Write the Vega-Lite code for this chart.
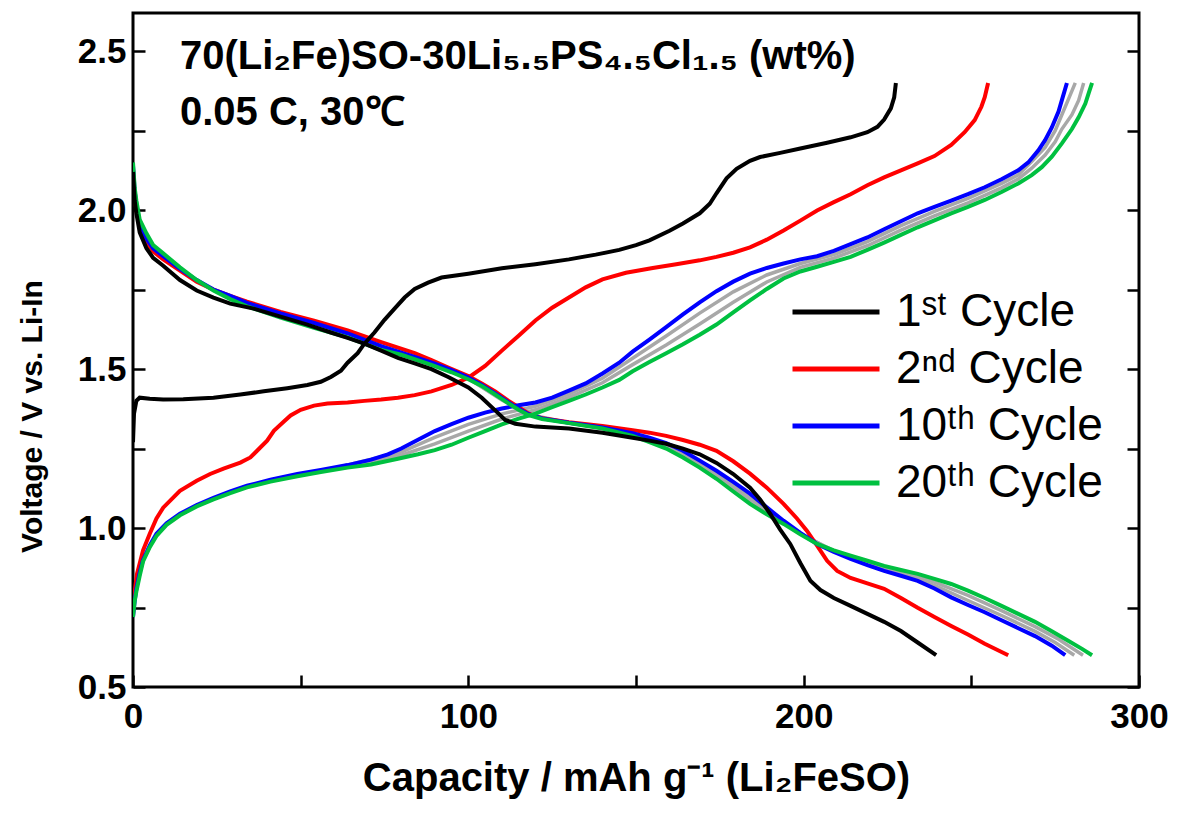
{
  "$schema": "https://vega.github.io/schema/vega-lite/v6.json",
  "width": 1006,
  "height": 674,
  "autosize": "none",
  "padding": {"left": 133, "top": 13, "right": 41, "bottom": 126},
  "background": "white",
  "config": {
    "view": {"stroke": "black", "strokeWidth": 3},
    "font": "Liberation Sans"
  },
  "datasets": {
    "main": [
      {"c":"2","s":"c","x":0,"y":0.76},{"c":"2","s":"c","x":0.5,"y":0.8},{"c":"2","s":"c","x":1.2,"y":0.856},{"c":"2","s":"c","x":3,"y":0.93},{"c":"2","s":"c","x":5,"y":0.982},{"c":"2","s":"c","x":7,"y":1.03},{"c":"2","s":"c","x":9,"y":1.064},{"c":"2","s":"c","x":14,"y":1.117},{"c":"2","s":"c","x":19,"y":1.149},{"c":"2","s":"c","x":23,"y":1.17},{"c":"2","s":"c","x":27,"y":1.187},{"c":"2","s":"c","x":32,"y":1.206},{"c":"2","s":"c","x":35,"y":1.222},{"c":"2","s":"c","x":37,"y":1.243},{"c":"2","s":"c","x":40,"y":1.275},{"c":"2","s":"c","x":42,"y":1.306},{"c":"2","s":"c","x":45,"y":1.335},{"c":"2","s":"c","x":47,"y":1.354},{"c":"2","s":"c","x":50,"y":1.372},{"c":"2","s":"c","x":54,"y":1.385},{"c":"2","s":"c","x":58,"y":1.392},{"c":"2","s":"c","x":64,"y":1.395},{"c":"2","s":"c","x":69,"y":1.4},{"c":"2","s":"c","x":74,"y":1.404},{"c":"2","s":"c","x":79,"y":1.41},{"c":"2","s":"c","x":84,"y":1.418},{"c":"2","s":"c","x":89,"y":1.43},{"c":"2","s":"c","x":95,"y":1.45},{"c":"2","s":"c","x":100,"y":1.473},{"c":"2","s":"c","x":105,"y":1.51},{"c":"2","s":"c","x":110,"y":1.558},{"c":"2","s":"c","x":115,"y":1.605},{"c":"2","s":"c","x":120,"y":1.653},{"c":"2","s":"c","x":125,"y":1.693},{"c":"2","s":"c","x":130,"y":1.725},{"c":"2","s":"c","x":135,"y":1.757},{"c":"2","s":"c","x":140,"y":1.782},{"c":"2","s":"c","x":147,"y":1.803},{"c":"2","s":"c","x":155,"y":1.818},{"c":"2","s":"c","x":162,"y":1.83},{"c":"2","s":"c","x":169,"y":1.842},{"c":"2","s":"c","x":174,"y":1.853},{"c":"2","s":"c","x":179,"y":1.866},{"c":"2","s":"c","x":184,"y":1.883},{"c":"2","s":"c","x":189,"y":1.907},{"c":"2","s":"c","x":194,"y":1.936},{"c":"2","s":"c","x":199,"y":1.967},{"c":"2","s":"c","x":204,"y":1.999},{"c":"2","s":"c","x":209,"y":2.025},{"c":"2","s":"c","x":214,"y":2.05},{"c":"2","s":"c","x":219,"y":2.078},{"c":"2","s":"c","x":224,"y":2.103},{"c":"2","s":"c","x":229,"y":2.125},{"c":"2","s":"c","x":234,"y":2.147},{"c":"2","s":"c","x":239,"y":2.17},{"c":"2","s":"c","x":244,"y":2.205},{"c":"2","s":"c","x":248,"y":2.245},{"c":"2","s":"c","x":251,"y":2.283},{"c":"2","s":"c","x":253,"y":2.325},{"c":"2","s":"c","x":254,"y":2.355},{"c":"2","s":"c","x":255,"y":2.4},
      {"c":"2","s":"d","x":0,"y":2.13},{"c":"2","s":"d","x":0.5,"y":2.04},{"c":"2","s":"d","x":1,"y":2.0},{"c":"2","s":"d","x":2,"y":1.95},{"c":"2","s":"d","x":4,"y":1.9},{"c":"2","s":"d","x":6,"y":1.87},{"c":"2","s":"d","x":9,"y":1.845},{"c":"2","s":"d","x":14,"y":1.81},{"c":"2","s":"d","x":19,"y":1.775},{"c":"2","s":"d","x":24,"y":1.75},{"c":"2","s":"d","x":29,"y":1.73},{"c":"2","s":"d","x":34,"y":1.712},{"c":"2","s":"d","x":44,"y":1.68},{"c":"2","s":"d","x":54,"y":1.652},{"c":"2","s":"d","x":64,"y":1.622},{"c":"2","s":"d","x":74,"y":1.585},{"c":"2","s":"d","x":84,"y":1.55},{"c":"2","s":"d","x":89,"y":1.528},{"c":"2","s":"d","x":94,"y":1.505},{"c":"2","s":"d","x":100,"y":1.478},{"c":"2","s":"d","x":104,"y":1.455},{"c":"2","s":"d","x":108,"y":1.43},{"c":"2","s":"d","x":112,"y":1.4},{"c":"2","s":"d","x":115,"y":1.38},{"c":"2","s":"d","x":118,"y":1.36},{"c":"2","s":"d","x":122,"y":1.345},{"c":"2","s":"d","x":130,"y":1.333},{"c":"2","s":"d","x":140,"y":1.321},{"c":"2","s":"d","x":149,"y":1.308},{"c":"2","s":"d","x":154,"y":1.3},{"c":"2","s":"d","x":159,"y":1.29},{"c":"2","s":"d","x":164,"y":1.277},{"c":"2","s":"d","x":169,"y":1.262},{"c":"2","s":"d","x":174,"y":1.243},{"c":"2","s":"d","x":179,"y":1.21},{"c":"2","s":"d","x":184,"y":1.171},{"c":"2","s":"d","x":189,"y":1.127},{"c":"2","s":"d","x":194,"y":1.076},{"c":"2","s":"d","x":198,"y":1.03},{"c":"2","s":"d","x":201,"y":0.991},{"c":"2","s":"d","x":204,"y":0.945},{"c":"2","s":"d","x":207,"y":0.897},{"c":"2","s":"d","x":210,"y":0.865},{"c":"2","s":"d","x":214,"y":0.843},{"c":"2","s":"d","x":219,"y":0.826},{"c":"2","s":"d","x":224,"y":0.809},{"c":"2","s":"d","x":229,"y":0.78},{"c":"2","s":"d","x":234,"y":0.749},{"c":"2","s":"d","x":239,"y":0.72},{"c":"2","s":"d","x":244,"y":0.692},{"c":"2","s":"d","x":249,"y":0.665},{"c":"2","s":"d","x":254,"y":0.636},{"c":"2","s":"d","x":261,"y":0.6},
      {"c":"10","s":"c","x":0,"y":0.72},{"c":"10","s":"c","x":0.5,"y":0.77},{"c":"10","s":"c","x":1,"y":0.81},{"c":"10","s":"c","x":2,"y":0.86},{"c":"10","s":"c","x":3,"y":0.9},{"c":"10","s":"c","x":5,"y":0.945},{"c":"10","s":"c","x":7,"y":0.982},{"c":"10","s":"c","x":10,"y":1.015},{"c":"10","s":"c","x":14,"y":1.045},{"c":"10","s":"c","x":19,"y":1.072},{"c":"10","s":"c","x":24,"y":1.095},{"c":"10","s":"c","x":29,"y":1.115},{"c":"10","s":"c","x":34,"y":1.133},{"c":"10","s":"c","x":41,"y":1.152},{"c":"10","s":"c","x":49,"y":1.17},{"c":"10","s":"c","x":56,"y":1.183},{"c":"10","s":"c","x":64,"y":1.198},{"c":"10","s":"c","x":71,"y":1.215},{"c":"10","s":"c","x":76,"y":1.232},{"c":"10","s":"c","x":80,"y":1.25},{"c":"10","s":"c","x":85,"y":1.278},{"c":"10","s":"c","x":90,"y":1.305},{"c":"10","s":"c","x":95,"y":1.327},{"c":"10","s":"c","x":100,"y":1.347},{"c":"10","s":"c","x":105,"y":1.363},{"c":"10","s":"c","x":110,"y":1.376},{"c":"10","s":"c","x":115,"y":1.386},{"c":"10","s":"c","x":120,"y":1.395},{"c":"10","s":"c","x":125,"y":1.41},{"c":"10","s":"c","x":130,"y":1.432},{"c":"10","s":"c","x":135,"y":1.455},{"c":"10","s":"c","x":140,"y":1.486},{"c":"10","s":"c","x":145,"y":1.52},{"c":"10","s":"c","x":149,"y":1.555},{"c":"10","s":"c","x":154,"y":1.593},{"c":"10","s":"c","x":159,"y":1.632},{"c":"10","s":"c","x":164,"y":1.672},{"c":"10","s":"c","x":169,"y":1.71},{"c":"10","s":"c","x":174,"y":1.745},{"c":"10","s":"c","x":179,"y":1.775},{"c":"10","s":"c","x":184,"y":1.8},{"c":"10","s":"c","x":189,"y":1.818},{"c":"10","s":"c","x":194,"y":1.832},{"c":"10","s":"c","x":199,"y":1.845},{"c":"10","s":"c","x":204,"y":1.855},{"c":"10","s":"c","x":209,"y":1.872},{"c":"10","s":"c","x":214,"y":1.893},{"c":"10","s":"c","x":219,"y":1.914},{"c":"10","s":"c","x":224,"y":1.94},{"c":"10","s":"c","x":229,"y":1.965},{"c":"10","s":"c","x":234,"y":1.99},{"c":"10","s":"c","x":239,"y":2.01},{"c":"10","s":"c","x":244,"y":2.03},{"c":"10","s":"c","x":249,"y":2.05},{"c":"10","s":"c","x":254,"y":2.072},{"c":"10","s":"c","x":259,"y":2.097},{"c":"10","s":"c","x":264,"y":2.125},{"c":"10","s":"c","x":267,"y":2.15},{"c":"10","s":"c","x":270,"y":2.188},{"c":"10","s":"c","x":272,"y":2.22},{"c":"10","s":"c","x":274,"y":2.26},{"c":"10","s":"c","x":276,"y":2.31},{"c":"10","s":"c","x":277,"y":2.346},{"c":"10","s":"c","x":278.5,"y":2.4},
      {"c":"10","s":"d","x":0,"y":2.14},{"c":"10","s":"d","x":0.5,"y":2.06},{"c":"10","s":"d","x":1,"y":2.02},{"c":"10","s":"d","x":2,"y":1.96},{"c":"10","s":"d","x":4,"y":1.91},{"c":"10","s":"d","x":6,"y":1.88},{"c":"10","s":"d","x":9,"y":1.855},{"c":"10","s":"d","x":14,"y":1.815},{"c":"10","s":"d","x":19,"y":1.78},{"c":"10","s":"d","x":24,"y":1.75},{"c":"10","s":"d","x":29,"y":1.73},{"c":"10","s":"d","x":34,"y":1.708},{"c":"10","s":"d","x":44,"y":1.675},{"c":"10","s":"d","x":54,"y":1.645},{"c":"10","s":"d","x":64,"y":1.612},{"c":"10","s":"d","x":74,"y":1.572},{"c":"10","s":"d","x":80,"y":1.552},{"c":"10","s":"d","x":84,"y":1.538},{"c":"10","s":"d","x":90,"y":1.517},{"c":"10","s":"d","x":95,"y":1.497},{"c":"10","s":"d","x":100,"y":1.473},{"c":"10","s":"d","x":104,"y":1.45},{"c":"10","s":"d","x":108,"y":1.423},{"c":"10","s":"d","x":112,"y":1.395},{"c":"10","s":"d","x":115,"y":1.375},{"c":"10","s":"d","x":118,"y":1.358},{"c":"10","s":"d","x":122,"y":1.345},{"c":"10","s":"d","x":130,"y":1.331},{"c":"10","s":"d","x":140,"y":1.316},{"c":"10","s":"d","x":149,"y":1.298},{"c":"10","s":"d","x":154,"y":1.284},{"c":"10","s":"d","x":159,"y":1.267},{"c":"10","s":"d","x":164,"y":1.243},{"c":"10","s":"d","x":169,"y":1.212},{"c":"10","s":"d","x":174,"y":1.18},{"c":"10","s":"d","x":179,"y":1.145},{"c":"10","s":"d","x":184,"y":1.108},{"c":"10","s":"d","x":189,"y":1.065},{"c":"10","s":"d","x":194,"y":1.023},{"c":"10","s":"d","x":199,"y":0.985},{"c":"10","s":"d","x":204,"y":0.95},{"c":"10","s":"d","x":209,"y":0.925},{"c":"10","s":"d","x":214,"y":0.903},{"c":"10","s":"d","x":219,"y":0.883},{"c":"10","s":"d","x":224,"y":0.865},{"c":"10","s":"d","x":229,"y":0.85},{"c":"10","s":"d","x":234,"y":0.834},{"c":"10","s":"d","x":239,"y":0.81},{"c":"10","s":"d","x":244,"y":0.782},{"c":"10","s":"d","x":249,"y":0.758},{"c":"10","s":"d","x":254,"y":0.735},{"c":"10","s":"d","x":259,"y":0.71},{"c":"10","s":"d","x":264,"y":0.685},{"c":"10","s":"d","x":269,"y":0.66},{"c":"10","s":"d","x":274,"y":0.63},{"c":"10","s":"d","x":278,"y":0.6},
      {"c":"20","s":"c","x":0,"y":0.72},{"c":"20","s":"c","x":0.5,"y":0.77},{"c":"20","s":"c","x":1,"y":0.8},{"c":"20","s":"c","x":2,"y":0.85},{"c":"20","s":"c","x":3,"y":0.895},{"c":"20","s":"c","x":5,"y":0.94},{"c":"20","s":"c","x":7,"y":0.975},{"c":"20","s":"c","x":10,"y":1.01},{"c":"20","s":"c","x":14,"y":1.04},{"c":"20","s":"c","x":19,"y":1.068},{"c":"20","s":"c","x":24,"y":1.09},{"c":"20","s":"c","x":29,"y":1.11},{"c":"20","s":"c","x":34,"y":1.128},{"c":"20","s":"c","x":41,"y":1.146},{"c":"20","s":"c","x":49,"y":1.163},{"c":"20","s":"c","x":56,"y":1.176},{"c":"20","s":"c","x":64,"y":1.19},{"c":"20","s":"c","x":71,"y":1.2},{"c":"20","s":"c","x":79,"y":1.218},{"c":"20","s":"c","x":85,"y":1.232},{"c":"20","s":"c","x":90,"y":1.245},{"c":"20","s":"c","x":95,"y":1.262},{"c":"20","s":"c","x":100,"y":1.284},{"c":"20","s":"c","x":105,"y":1.305},{"c":"20","s":"c","x":110,"y":1.326},{"c":"20","s":"c","x":115,"y":1.344},{"c":"20","s":"c","x":120,"y":1.36},{"c":"20","s":"c","x":125,"y":1.38},{"c":"20","s":"c","x":130,"y":1.4},{"c":"20","s":"c","x":135,"y":1.42},{"c":"20","s":"c","x":140,"y":1.442},{"c":"20","s":"c","x":145,"y":1.466},{"c":"20","s":"c","x":149,"y":1.493},{"c":"20","s":"c","x":154,"y":1.522},{"c":"20","s":"c","x":159,"y":1.55},{"c":"20","s":"c","x":164,"y":1.578},{"c":"20","s":"c","x":169,"y":1.608},{"c":"20","s":"c","x":174,"y":1.64},{"c":"20","s":"c","x":179,"y":1.678},{"c":"20","s":"c","x":184,"y":1.716},{"c":"20","s":"c","x":189,"y":1.752},{"c":"20","s":"c","x":194,"y":1.785},{"c":"20","s":"c","x":199,"y":1.807},{"c":"20","s":"c","x":204,"y":1.822},{"c":"20","s":"c","x":209,"y":1.837},{"c":"20","s":"c","x":214,"y":1.853},{"c":"20","s":"c","x":219,"y":1.875},{"c":"20","s":"c","x":224,"y":1.898},{"c":"20","s":"c","x":229,"y":1.922},{"c":"20","s":"c","x":234,"y":1.946},{"c":"20","s":"c","x":239,"y":1.968},{"c":"20","s":"c","x":244,"y":1.99},{"c":"20","s":"c","x":249,"y":2.01},{"c":"20","s":"c","x":254,"y":2.032},{"c":"20","s":"c","x":259,"y":2.057},{"c":"20","s":"c","x":264,"y":2.084},{"c":"20","s":"c","x":268,"y":2.11},{"c":"20","s":"c","x":271,"y":2.135},{"c":"20","s":"c","x":274,"y":2.168},{"c":"20","s":"c","x":277,"y":2.21},{"c":"20","s":"c","x":280,"y":2.255},{"c":"20","s":"c","x":282,"y":2.292},{"c":"20","s":"c","x":284,"y":2.335},{"c":"20","s":"c","x":285,"y":2.368},{"c":"20","s":"c","x":286,"y":2.4},
      {"c":"20","s":"d","x":0,"y":2.15},{"c":"20","s":"d","x":0.5,"y":2.07},{"c":"20","s":"d","x":1,"y":2.03},{"c":"20","s":"d","x":2,"y":1.97},{"c":"20","s":"d","x":4,"y":1.927},{"c":"20","s":"d","x":6,"y":1.89},{"c":"20","s":"d","x":9,"y":1.864},{"c":"20","s":"d","x":14,"y":1.82},{"c":"20","s":"d","x":19,"y":1.78},{"c":"20","s":"d","x":24,"y":1.747},{"c":"20","s":"d","x":29,"y":1.72},{"c":"20","s":"d","x":34,"y":1.697},{"c":"20","s":"d","x":44,"y":1.662},{"c":"20","s":"d","x":54,"y":1.63},{"c":"20","s":"d","x":64,"y":1.6},{"c":"20","s":"d","x":74,"y":1.56},{"c":"20","s":"d","x":80,"y":1.545},{"c":"20","s":"d","x":89,"y":1.513},{"c":"20","s":"d","x":95,"y":1.49},{"c":"20","s":"d","x":100,"y":1.468},{"c":"20","s":"d","x":104,"y":1.447},{"c":"20","s":"d","x":108,"y":1.42},{"c":"20","s":"d","x":112,"y":1.392},{"c":"20","s":"d","x":115,"y":1.372},{"c":"20","s":"d","x":118,"y":1.355},{"c":"20","s":"d","x":122,"y":1.343},{"c":"20","s":"d","x":130,"y":1.33},{"c":"20","s":"d","x":140,"y":1.313},{"c":"20","s":"d","x":149,"y":1.29},{"c":"20","s":"d","x":154,"y":1.27},{"c":"20","s":"d","x":159,"y":1.25},{"c":"20","s":"d","x":164,"y":1.222},{"c":"20","s":"d","x":169,"y":1.19},{"c":"20","s":"d","x":174,"y":1.155},{"c":"20","s":"d","x":179,"y":1.115},{"c":"20","s":"d","x":184,"y":1.076},{"c":"20","s":"d","x":189,"y":1.043},{"c":"20","s":"d","x":194,"y":1.013},{"c":"20","s":"d","x":199,"y":0.98},{"c":"20","s":"d","x":204,"y":0.95},{"c":"20","s":"d","x":209,"y":0.93},{"c":"20","s":"d","x":214,"y":0.913},{"c":"20","s":"d","x":219,"y":0.897},{"c":"20","s":"d","x":224,"y":0.881},{"c":"20","s":"d","x":229,"y":0.868},{"c":"20","s":"d","x":234,"y":0.856},{"c":"20","s":"d","x":239,"y":0.84},{"c":"20","s":"d","x":244,"y":0.824},{"c":"20","s":"d","x":249,"y":0.803},{"c":"20","s":"d","x":254,"y":0.78},{"c":"20","s":"d","x":259,"y":0.755},{"c":"20","s":"d","x":264,"y":0.73},{"c":"20","s":"d","x":269,"y":0.705},{"c":"20","s":"d","x":274,"y":0.675},{"c":"20","s":"d","x":279,"y":0.645},{"c":"20","s":"d","x":283,"y":0.62},{"c":"20","s":"d","x":286,"y":0.6},
      {"c":"1","s":"c","x":0,"y":1.27},{"c":"1","s":"c","x":0.3,"y":1.36},{"c":"1","s":"c","x":1,"y":1.4},{"c":"1","s":"c","x":2,"y":1.41},{"c":"1","s":"c","x":5,"y":1.407},{"c":"1","s":"c","x":9,"y":1.404},{"c":"1","s":"c","x":15,"y":1.405},{"c":"1","s":"c","x":24,"y":1.41},{"c":"1","s":"c","x":32,"y":1.42},{"c":"1","s":"c","x":39,"y":1.43},{"c":"1","s":"c","x":46,"y":1.44},{"c":"1","s":"c","x":52,"y":1.45},{"c":"1","s":"c","x":56,"y":1.46},{"c":"1","s":"c","x":59,"y":1.475},{"c":"1","s":"c","x":62,"y":1.495},{"c":"1","s":"c","x":64,"y":1.52},{"c":"1","s":"c","x":67,"y":1.55},{"c":"1","s":"c","x":69,"y":1.58},{"c":"1","s":"c","x":72,"y":1.615},{"c":"1","s":"c","x":75,"y":1.655},{"c":"1","s":"c","x":78,"y":1.69},{"c":"1","s":"c","x":81,"y":1.725},{"c":"1","s":"c","x":84,"y":1.752},{"c":"1","s":"c","x":88,"y":1.772},{"c":"1","s":"c","x":92,"y":1.788},{"c":"1","s":"c","x":100,"y":1.8},{"c":"1","s":"c","x":110,"y":1.817},{"c":"1","s":"c","x":120,"y":1.83},{"c":"1","s":"c","x":130,"y":1.845},{"c":"1","s":"c","x":138,"y":1.86},{"c":"1","s":"c","x":145,"y":1.875},{"c":"1","s":"c","x":150,"y":1.89},{"c":"1","s":"c","x":154,"y":1.905},{"c":"1","s":"c","x":160,"y":1.935},{"c":"1","s":"c","x":164,"y":1.958},{"c":"1","s":"c","x":169,"y":1.99},{"c":"1","s":"c","x":172,"y":2.02},{"c":"1","s":"c","x":174,"y":2.053},{"c":"1","s":"c","x":177,"y":2.1},{"c":"1","s":"c","x":180,"y":2.13},{"c":"1","s":"c","x":184,"y":2.155},{"c":"1","s":"c","x":187,"y":2.167},{"c":"1","s":"c","x":193,"y":2.18},{"c":"1","s":"c","x":199,"y":2.194},{"c":"1","s":"c","x":207,"y":2.212},{"c":"1","s":"c","x":214,"y":2.229},{"c":"1","s":"c","x":219,"y":2.245},{"c":"1","s":"c","x":222,"y":2.262},{"c":"1","s":"c","x":224,"y":2.285},{"c":"1","s":"c","x":226,"y":2.32},{"c":"1","s":"c","x":227,"y":2.355},{"c":"1","s":"c","x":227.5,"y":2.4},
      {"c":"1","s":"d","x":0,"y":2.12},{"c":"1","s":"d","x":0.5,"y":2.03},{"c":"1","s":"d","x":1,"y":1.99},{"c":"1","s":"d","x":2,"y":1.93},{"c":"1","s":"d","x":4,"y":1.88},{"c":"1","s":"d","x":6,"y":1.85},{"c":"1","s":"d","x":9,"y":1.825},{"c":"1","s":"d","x":14,"y":1.78},{"c":"1","s":"d","x":19,"y":1.747},{"c":"1","s":"d","x":24,"y":1.725},{"c":"1","s":"d","x":29,"y":1.706},{"c":"1","s":"d","x":36,"y":1.69},{"c":"1","s":"d","x":44,"y":1.665},{"c":"1","s":"d","x":52,"y":1.64},{"c":"1","s":"d","x":59,"y":1.615},{"c":"1","s":"d","x":64,"y":1.598},{"c":"1","s":"d","x":69,"y":1.58},{"c":"1","s":"d","x":74,"y":1.558},{"c":"1","s":"d","x":79,"y":1.535},{"c":"1","s":"d","x":84,"y":1.518},{"c":"1","s":"d","x":89,"y":1.5},{"c":"1","s":"d","x":94,"y":1.475},{"c":"1","s":"d","x":100,"y":1.442},{"c":"1","s":"d","x":104,"y":1.41},{"c":"1","s":"d","x":108,"y":1.37},{"c":"1","s":"d","x":111,"y":1.34},{"c":"1","s":"d","x":114,"y":1.328},{"c":"1","s":"d","x":120,"y":1.319},{"c":"1","s":"d","x":130,"y":1.313},{"c":"1","s":"d","x":140,"y":1.3},{"c":"1","s":"d","x":149,"y":1.284},{"c":"1","s":"d","x":154,"y":1.275},{"c":"1","s":"d","x":159,"y":1.265},{"c":"1","s":"d","x":164,"y":1.25},{"c":"1","s":"d","x":169,"y":1.232},{"c":"1","s":"d","x":174,"y":1.205},{"c":"1","s":"d","x":179,"y":1.17},{"c":"1","s":"d","x":184,"y":1.127},{"c":"1","s":"d","x":187,"y":1.09},{"c":"1","s":"d","x":190,"y":1.045},{"c":"1","s":"d","x":193,"y":0.995},{"c":"1","s":"d","x":196,"y":0.95},{"c":"1","s":"d","x":199,"y":0.89},{"c":"1","s":"d","x":202,"y":0.834},{"c":"1","s":"d","x":205,"y":0.805},{"c":"1","s":"d","x":209,"y":0.78},{"c":"1","s":"d","x":214,"y":0.755},{"c":"1","s":"d","x":219,"y":0.73},{"c":"1","s":"d","x":224,"y":0.705},{"c":"1","s":"d","x":229,"y":0.676},{"c":"1","s":"d","x":234,"y":0.64},{"c":"1","s":"d","x":239.5,"y":0.6}
    ],
    "gray": [
      {"g":"a1","x":60,"y":1.188},{"g":"a1","x":80,"y":1.239},{"g":"a1","x":90,"y":1.285},{"g":"a1","x":100,"y":1.326},{"g":"a1","x":110,"y":1.359},{"g":"a1","x":120,"y":1.383},{"g":"a1","x":130,"y":1.421},{"g":"a1","x":140,"y":1.471},{"g":"a1","x":149,"y":1.534},{"g":"a1","x":159,"y":1.604},{"g":"a1","x":169,"y":1.676},{"g":"a1","x":179,"y":1.743},{"g":"a1","x":189,"y":1.796},{"g":"a1","x":199,"y":1.832},{"g":"a1","x":209,"y":1.86},{"g":"a1","x":219,"y":1.901},{"g":"a1","x":229,"y":1.951},{"g":"a1","x":239,"y":1.996},{"g":"a1","x":249,"y":2.037},{"g":"a1","x":259,"y":2.084},{"g":"a1","x":264,"y":2.111},{"g":"a1","x":268,"y":2.153},{"g":"a1","x":272,"y":2.197},{"g":"a1","x":275,"y":2.25},{"g":"a1","x":277,"y":2.3},{"g":"a1","x":279,"y":2.35},{"g":"a1","x":281,"y":2.4},
      {"g":"a2","x":60,"y":1.185},{"g":"a2","x":80,"y":1.229},{"g":"a2","x":90,"y":1.265},{"g":"a2","x":100,"y":1.305},{"g":"a2","x":110,"y":1.343},{"g":"a2","x":120,"y":1.372},{"g":"a2","x":130,"y":1.411},{"g":"a2","x":140,"y":1.457},{"g":"a2","x":149,"y":1.514},{"g":"a2","x":159,"y":1.576},{"g":"a2","x":169,"y":1.642},{"g":"a2","x":179,"y":1.71},{"g":"a2","x":189,"y":1.774},{"g":"a2","x":199,"y":1.82},{"g":"a2","x":209,"y":1.849},{"g":"a2","x":219,"y":1.888},{"g":"a2","x":229,"y":1.937},{"g":"a2","x":239,"y":1.982},{"g":"a2","x":249,"y":2.023},{"g":"a2","x":259,"y":2.07},{"g":"a2","x":264,"y":2.098},{"g":"a2","x":268,"y":2.132},{"g":"a2","x":272,"y":2.173},{"g":"a2","x":275,"y":2.215},{"g":"a2","x":277,"y":2.255},{"g":"a2","x":280,"y":2.3},{"g":"a2","x":282,"y":2.345},{"g":"a2","x":283.5,"y":2.4},
      {"g":"b1","x":100,"y":1.471},{"g":"b1","x":110,"y":1.405},{"g":"b1","x":118,"y":1.357},{"g":"b1","x":130,"y":1.331},{"g":"b1","x":140,"y":1.315},{"g":"b1","x":149,"y":1.295},{"g":"b1","x":159,"y":1.261},{"g":"b1","x":169,"y":1.205},{"g":"b1","x":179,"y":1.135},{"g":"b1","x":189,"y":1.058},{"g":"b1","x":199,"y":0.983},{"g":"b1","x":209,"y":0.927},{"g":"b1","x":219,"y":0.888},{"g":"b1","x":229,"y":0.856},{"g":"b1","x":239,"y":0.82},{"g":"b1","x":249,"y":0.772},{"g":"b1","x":259,"y":0.725},{"g":"b1","x":269,"y":0.675},{"g":"b1","x":275,"y":0.64},{"g":"b1","x":280.7,"y":0.6},
      {"g":"b2","x":100,"y":1.47},{"g":"b2","x":110,"y":1.403},{"g":"b2","x":118,"y":1.356},{"g":"b2","x":130,"y":1.33},{"g":"b2","x":140,"y":1.314},{"g":"b2","x":149,"y":1.293},{"g":"b2","x":159,"y":1.256},{"g":"b2","x":169,"y":1.198},{"g":"b2","x":179,"y":1.125},{"g":"b2","x":189,"y":1.05},{"g":"b2","x":199,"y":0.982},{"g":"b2","x":209,"y":0.928},{"g":"b2","x":219,"y":0.892},{"g":"b2","x":229,"y":0.862},{"g":"b2","x":239,"y":0.83},{"g":"b2","x":249,"y":0.788},{"g":"b2","x":259,"y":0.74},{"g":"b2","x":269,"y":0.69},{"g":"b2","x":276,"y":0.65},{"g":"b2","x":283.3,"y":0.6}
    ]
  },
  "layer": [
    {
      "data": {"name": "gray"},
      "mark": {"type": "line", "color": "#a8a8a8", "strokeWidth": 3.5, "clip": true},
      "encoding": {
        "x": {"field": "x", "type": "quantitative", "scale": {"domain": [0, 300], "nice": false, "zero": false},
          "axis": {"orient": "bottom", "values": [0, 50, 100, 150, 200, 250, 300], "labelExpr": "datum.value % 100 == 0 ? datum.label : ''", "format": "d", "domain": false, "tickSize": -12, "tickWidth": 2.5, "tickColor": "black", "labelPadding": 24, "labelFlush": false, "labelOverlap": false, "labelFont": "Liberation Sans", "labelFontSize": 35, "labelFontWeight": "bold", "labelColor": "black", "grid": false,
            "title": "Capacity / mAh g⁻¹ (Li₂FeSO)", "titleFont": "Liberation Sans", "titleFontSize": 40, "titleFontWeight": "bold", "titleColor": "black", "titlePadding": 24}},
        "y": {"field": "y", "type": "quantitative", "scale": {"domain": [0.5, 2.62], "nice": false, "zero": false},
          "axis": {"orient": "right", "values": [0.5, 0.75, 1.0, 1.25, 1.5, 1.75, 2.0, 2.25, 2.5], "labels": false, "domain": false, "tickSize": -12, "tickWidth": 2.5, "tickColor": "black", "grid": false, "title": null}},
        "detail": {"field": "g"}
      }
    },
    {
      "data": {"name": "main"},
      "mark": {"type": "line", "strokeWidth": 4, "clip": true},
      "encoding": {
        "x": {"field": "x", "type": "quantitative", "scale": {"domain": [0, 300], "nice": false, "zero": false},
          "axis": {"orient": "bottom", "values": [0, 50, 100, 150, 200, 250, 300], "labelExpr": "datum.value % 100 == 0 ? datum.label : ''", "format": "d", "domain": false, "tickSize": -12, "tickWidth": 2.5, "tickColor": "black", "labelPadding": 24, "labelFlush": false, "labelOverlap": false, "labelFont": "Liberation Sans", "labelFontSize": 35, "labelFontWeight": "bold", "labelColor": "black", "grid": false,
            "title": "Capacity / mAh g⁻¹ (Li₂FeSO)", "titleFont": "Liberation Sans", "titleFontSize": 40, "titleFontWeight": "bold", "titleColor": "black", "titlePadding": 24}},
        "y": {"field": "y", "type": "quantitative", "scale": {"domain": [0.5, 2.62], "nice": false, "zero": false},
          "axis": {"orient": "left", "values": [0.5, 0.75, 1.0, 1.25, 1.5, 1.75, 2.0, 2.25, 2.5], "labelExpr": "(datum.value * 2) % 1 == 0 ? format(datum.value, '.1f') : ''", "domain": false, "tickSize": -12, "tickWidth": 2.5, "tickColor": "black", "labelPadding": 19, "labelOverlap": false, "labelFont": "Liberation Sans", "labelFontSize": 35, "labelFontWeight": "bold", "labelColor": "black", "grid": false,
            "title": "Voltage / V vs. Li-In", "titleFont": "Liberation Sans", "titleFontSize": 30, "titleFontWeight": "bold", "titleColor": "black", "titlePadding": 30, "titleY": 403}},
        "color": {"field": "c", "type": "nominal",
          "scale": {"domain": ["1", "2", "10", "20"], "range": ["#000000", "#ff0000", "#0000ff", "#00c040"]},
          "legend": {"orient": "none", "legendX": 680, "legendY": 276, "title": null, "padding": 0,
            "symbolType": "M-3,0H3", "symbolSize": 841, "symbolStrokeWidth": 5,
            "labelFont": "Liberation Sans", "labelFontSize": 46, "labelColor": "black", "labelOffset": 37, "labelLimit": 400,
            "rowPadding": 11,
            "labelExpr": "datum.label == '1' ? '1ˢᵗ Cycle' : datum.label == '2' ? '2ⁿᵈ Cycle' : datum.label == '10' ? '10ᵗʰ Cycle' : '20ᵗʰ Cycle'"}},
        "detail": {"field": "s"}
      }
    },
    {
      "data": {"values": [{}]},
      "mark": {"type": "text", "text": "70(Li₂Fe)SO-30Li₅.₅PS₄.₅Cl₁.₅ (wt%)", "font": "Liberation Sans", "fontSize": 40, "fontWeight": "bold", "align": "left", "baseline": "alphabetic", "color": "black"},
      "encoding": {
        "x": {"datum": 14, "type": "quantitative"},
        "y": {"datum": 2.445, "type": "quantitative", "axis": null}
      }
    },
    {
      "data": {"values": [{}]},
      "mark": {"type": "text", "text": "0.05 C, 30℃", "font": "Liberation Sans", "fontSize": 40, "fontWeight": "bold", "align": "left", "baseline": "alphabetic", "color": "black"},
      "encoding": {
        "x": {"datum": 14, "type": "quantitative"},
        "y": {"datum": 2.267, "type": "quantitative", "axis": null}
      }
    }
  ],
  "resolve": {"axis": {"y": "independent"}}
}
